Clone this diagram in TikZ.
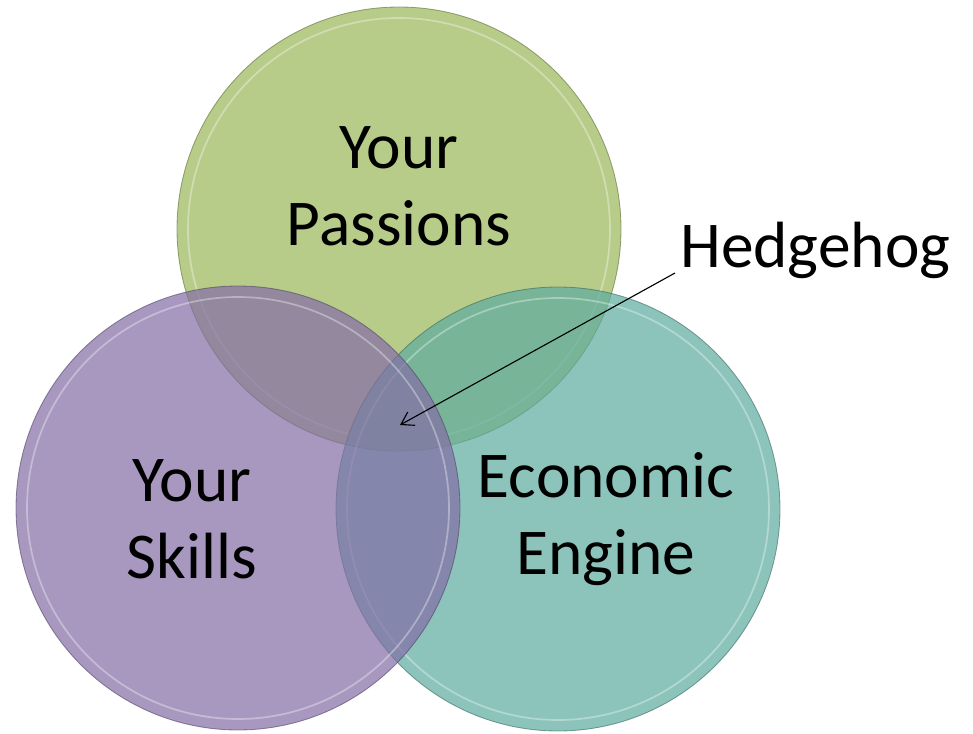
\documentclass[tikz,border=0pt]{standalone}
\usepackage{fontspec}
\usetikzlibrary{arrows.meta}
\setmainfont{Carlito}
\definecolor{passion} {rgb}{0.604,0.714,0.345}
\definecolor{skill} {rgb}{0.514,0.424,0.647}
\definecolor{engine} {rgb}{0.357,0.671,0.624}

\begin{document}
\begin{tikzpicture}[x=0.25mm,y=0.25mm,
    bubble/.style={fill opacity=0.7, draw opacity=0.6, line width=0.6pt},
    rim/.style={white, opacity=0.35, line width=1.2pt},
    word/.style={font=\fontsize{46.5}{55}\selectfont, align=center, inner sep=0pt}]
  \useasboundingbox (0,0) rectangle (973,733);
                  \filldraw[passion,draw=passion!60!black,bubble] (399,504) circle(222);
                  \draw[rim] (399,504) circle(211);
                  \filldraw[engine,draw=engine!60!black,bubble] (558,224) circle(222);
                  \draw[rim] (558,224) circle(211);
                  \filldraw[skill,draw=skill!60!black,bubble] (238,225) circle(222);
                  \draw[rim] (238,225) circle(211);
                  \node[word] (passions) at (399,547) {Your\\Passions};
                  \node[word] (skills) at (192,214) {Your\\Skills};
                  \node[word] (economic) at (606,214) {Economic\\Engine};
                  \node[word,anchor=base west] (hedgehog) at (680,465) {Hedgehog};
                  \coordinate (core) at (400,308);
                  \draw[-{Straight Barb[length=3mm,width=3.8mm]},line width=0.8pt] ([shift={(-5,-5)}]hedgehog.base west) -- (core);
            \end{tikzpicture}
\end{document}
